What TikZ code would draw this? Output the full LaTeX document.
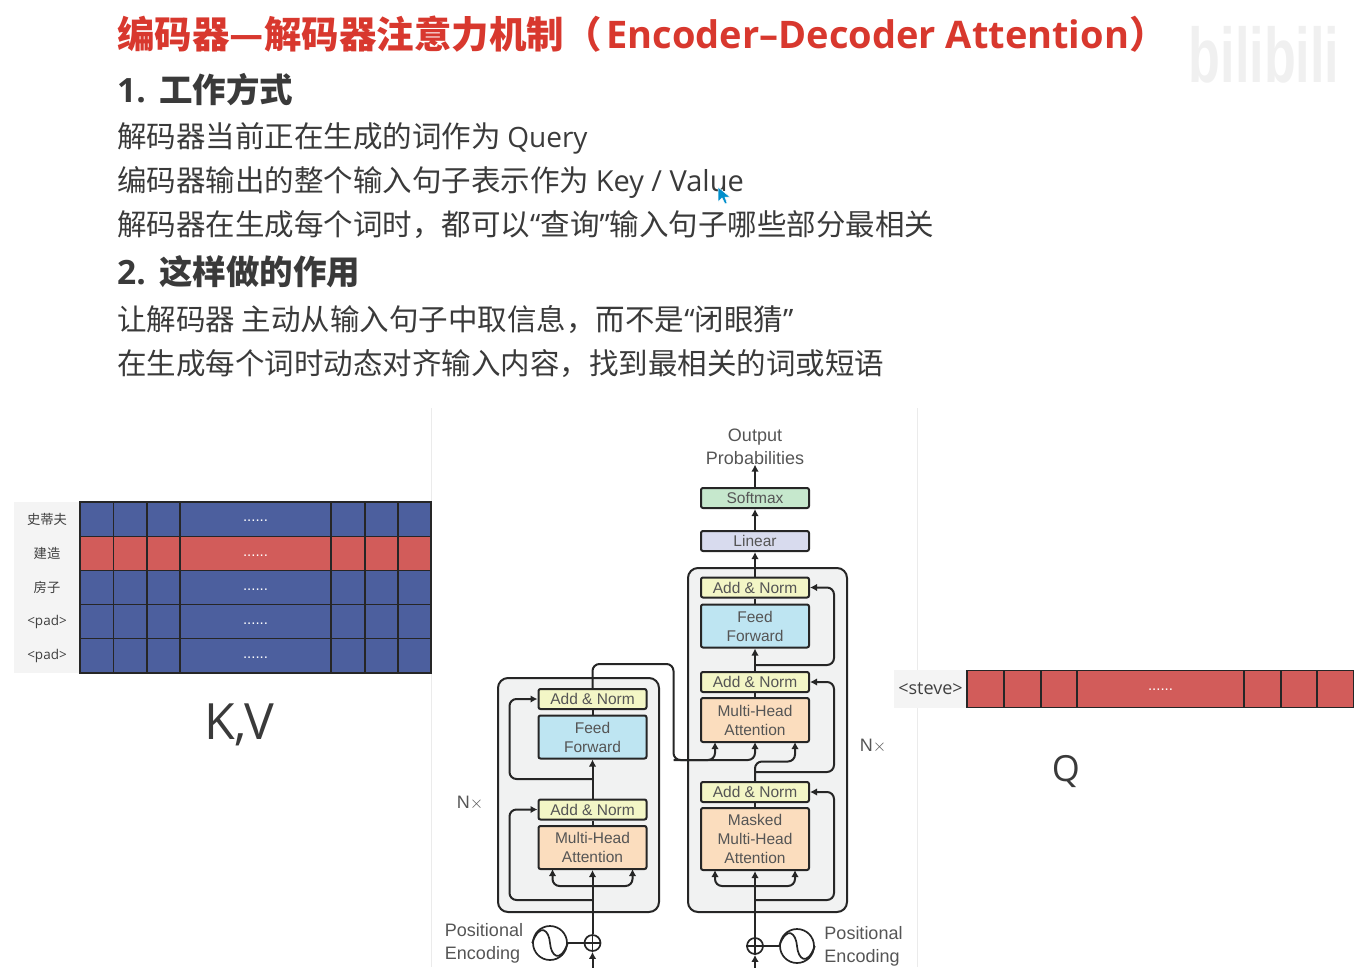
\documentclass[tikz,border=0pt]{standalone}
\usepackage{fontspec}
\setmainfont{Noto Sans CJK SC}
\newfontfamily\lat{Open Sans}
\newfontfamily\helv{Liberation Sans}
\usetikzlibrary{arrows.meta}
\definecolor{titlered}{HTML}{D8382E}
\definecolor{bodygrey}{HTML}{3A3A3A}
\definecolor{labelgrey}{HTML}{555555}
\definecolor{stackgrey}{HTML}{F1F2F2}
\definecolor{normyellow}{HTML}{F3F6C6}
\definecolor{feedblue}{HTML}{BEE5F2}
\definecolor{attnorange}{HTML}{FBDDBE}
\definecolor{linearblue}{HTML}{D8DBEE}
\definecolor{softgreen}{HTML}{C6E8CD}
\definecolor{cellblue}{HTML}{4C5F9E}
\definecolor{cellred}{HTML}{D25C5A}
\definecolor{rowgrey}{HTML}{F4F4F4}
\tikzset{
  bodytext/.style={anchor=base west,inner sep=0pt,text=bodygrey,font=\fontsize{29.5}{32}\selectfont},
  headtext/.style={anchor=base west,inner sep=0pt,text=bodygrey,font=\fontsize{33.5}{36}\selectfont\bfseries},
  stack/.style={draw=black!85,fill=stackgrey,line width=2pt,rounded corners=10pt},
  block/.style={draw=black!85,line width=2pt,rounded corners=2pt,minimum width=108pt,inner sep=0pt,
    align=center,text=labelgrey,font=\helv\fontsize{15.5}{19}\selectfont},
  lbl/.style={inner sep=0pt,align=center,text=labelgrey,font=\helv\fontsize{18}{23}\selectfont},
  flow/.style={line width=2pt,draw=black!85,-{Latex[length=7pt,width=7.5pt]},rounded corners=7pt},
  line/.style={line width=2pt,draw=black!85,rounded corners=7pt},
  rowname/.style={fill=rowgrey,inner sep=0pt,minimum height=34.2pt,minimum width=66pt,text=black!75},
  dots/.style={inner sep=0pt,text=white,font=\helv\fontsize{15}{15}\selectfont},
  wave/.style={circle,draw=black!85,line width=1.7pt,minimum size=34pt,inner sep=0pt},
  adder/.style={circle,draw=black!85,line width=1.7pt,minimum size=16pt,inner sep=0pt},
}
\begin{document}
\begin{tikzpicture}[x=1pt,y=-1pt]
\useasboundingbox (0,0) rectangle (1359,967);

% heading and text lines
\node[anchor=base west,inner sep=0pt,text=titlered,font=\fontsize{37.5}{40}\selectfont\bfseries] (title) at (117,48.5)
  {编码器—解码器注意力机制（\hspace{5pt}{\lat\fontsize{38}{40}\selectfont Encoder–Decoder Attention}）};
\node[headtext] (head1) at (117,102) {{\lat 1.\hspace{2pt} }工作方式};
\node[bodytext] (line1) at (117,147.5) {解码器当前正在生成的词作为 {\lat\fontsize{28}{32}\selectfont Query}};
\node[bodytext] (line2) at (117,191.5) {编码器输出的整个输入句子表示作为 {\lat\fontsize{29}{32}\selectfont Key / Value}};
\node[bodytext] (line3) at (117,235.5) {解码器在生成每个词时，都可以{\lat “}查询{\lat ”}输入句子哪些部分最相关};
\node[headtext] (head2) at (117,284) {{\lat 2.\hspace{2pt} }这样做的作用};
\node[bodytext] (line4) at (117,330.5) {让解码器 主动从输入句子中取信息，而不是{\lat “}闭眼猜{\lat ”}};
\node[bodytext] (line5) at (117,374.5) {在生成每个词时动态对齐输入内容，找到最相关的词或短语};

% watermark and cursor
\node[inner sep=0pt,text=black!6,font=\helv\bfseries\fontsize{62}{62}\selectfont,transform shape,xscale=.84,yscale=1.25] (mark) at (1264,55) {bilibili};
\fill[draw=white,fill=blue!30!cyan!80!black,line width=.5pt] (718,187) -- (718,202) -- (722,198) -- (725,204) -- (727,203) -- (725,197) -- (730,197) -- cycle;

% panel rules
\draw[black!8] (431,408) -- (431,967);
\draw[black!8] (917,408) -- (917,967);

% K,V table
\node[rowname,font=\fontsize{13.3}{15}\selectfont] (kv1) at (47,519) {史蒂夫};
\node[rowname,font=\fontsize{13.3}{15}\selectfont] (kv2) at (47,553.2) {建造};
\node[rowname,font=\fontsize{13.3}{15}\selectfont] (kv3) at (47,587.4) {房子};
\node[rowname,font=\lat\fontsize{13.5}{15}\selectfont] (kv4) at (47,621.6) {\raisebox{-1.4pt}{<pad>}};
\node[rowname,font=\lat\fontsize{13.5}{15}\selectfont] (kv5) at (47,655.8) {\raisebox{-1.4pt}{<pad>}};
\foreach \y/\cname in {502/cellblue,536.2/cellred,570.4/cellblue,604.6/cellblue,638.8/cellblue}{
  \fill[\cname] (80,\y) rectangle (431,\y+34.2);
  \draw[black!85,line width=1.2pt] (80,\y) rectangle (431,\y+34.2);
  \foreach \x in {113.5,147,180,331,365,398}
    \draw[black!85,line width=1.2pt] (\x,\y) -- (\x,\y+34.2);
  \node[dots] at (255.5,\y+19) {......};
}
\node[inner sep=0pt,text=bodygrey,font=\fontsize{50}{54}\selectfont] (kvname) at (239,725) {{\lat K,V}};

% Q row
\node[rowname,minimum width=73pt,minimum height=38pt,font=\lat\fontsize{18}{20}\selectfont] (qname) at (930.5,689) {\raisebox{-1pt}{<steve>}};
\fill[cellred] (967,670.5) rectangle (1353.5,707.5);
\draw[black!85,line width=1.2pt] (967,670.5) rectangle (1353.5,707.5);
\foreach \x in {1004,1041,1077,1244,1281,1317}
  \draw[black!85,line width=1.2pt] (\x,670.5) -- (\x,707.5);
\node[dots] at (1160.5,690) {......};
\node[inner sep=0pt,text=bodygrey,font=\fontsize{36}{40}\selectfont] (qlabel) at (1066,771) {{\lat Q}};

% stacks
\node[stack,minimum width=161pt,minimum height=234pt] (encstack) at (578.5,795) {};
\node[stack,minimum width=159pt,minimum height=344pt] (decstack) at (767.5,740) {};

% encoder blocks
\node[block,fill=attnorange,minimum height=43pt] (encmha) at (592.5,847.5) {Multi-Head\\Attention};
\node[block,fill=normyellow,minimum height=20pt] (encnorm1) at (592.5,809.5) {Add \& Norm};
\node[block,fill=feedblue,minimum height=43pt] (encff) at (592.5,737) {Feed\\Forward};
\node[block,fill=normyellow,minimum height=20pt] (encnorm2) at (592.5,699) {Add \& Norm};

% decoder blocks
\node[block,fill=attnorange,minimum height=62pt] (decmask) at (755,839) {Masked\\Multi-Head\\Attention};
\node[block,fill=normyellow,minimum height=20pt] (decnorm1) at (755,792) {Add \& Norm};
\node[block,fill=attnorange,minimum height=44pt] (decmha) at (755,720) {Multi-Head\\Attention};
\node[block,fill=normyellow,minimum height=20pt] (decnorm2) at (755,682) {Add \& Norm};
\node[block,fill=feedblue,minimum height=43pt] (decff) at (755,626) {Feed\\Forward};
\node[block,fill=normyellow,minimum height=20pt] (decnorm3) at (755,587.5) {Add \& Norm};
\node[block,fill=linearblue,minimum height=20pt] (linear) at (755,541) {Linear};
\node[block,fill=softgreen,minimum height=20pt] (softmax) at (755,498) {Softmax};
\node[lbl] (output) at (755,446.5) {Output\\Probabilities};

% positional encoding
\node[adder] (encadd) at (592.5,943) {};
\node[wave] (encwave) at (550,943) {};
\node[adder] (decadd) at (755,946) {};
\node[wave] (decwave) at (797,946) {};
\draw[line width=1.7pt,black!85] (encadd.north)--(encadd.south) (encadd.west)--(encadd.east);
\draw[line width=1.7pt,black!85] (decadd.north)--(decadd.south) (decadd.west)--(decadd.east);
\draw[line width=1.7pt,black!85] (encwave.west) .. controls (540,922) and (549,930) .. (550,943) .. controls (551,956) and (560,964) .. (encwave.east);
\draw[line width=1.7pt,black!85] (decwave.west) .. controls (787,925) and (796,933) .. (797,946) .. controls (798,959) and (807,967) .. (decwave.east);
\draw[line] (encwave)--(encadd);
\draw[line] (decwave)--(decadd);
\node[lbl,align=left] (encpos) at (484,943.5) {Positional\\Encoding};
\node[lbl,align=left] (decpos) at (863.5,946.5) {Positional\\Encoding};
\node[lbl] (encnx) at (470,803) {N$\times$};
\node[lbl] (decnx) at (873,746) {N$\times$};

% free ends
\coordinate (encin) at (592.5,972);
\coordinate (decin) at (755,972);
\coordinate (enck) at (552.5,869);
\coordinate (encq) at (632.5,869);
\coordinate (encfork) at (592.5,886);
\coordinate (encskip1) at (592.5,900);
\coordinate (encskip2) at (592.5,779);
\coordinate (encleft) at (509.5,850);
\coordinate (deck) at (715,870);
\coordinate (decq) at (795,870);
\coordinate (decfork) at (755,886);
\coordinate (decskip1) at (755,900);
\coordinate (decskip2) at (755,772);
\coordinate (decskip3) at (755,665);
\coordinate (decright) at (834,850);
\coordinate (xa) at (673.5,664);
\coordinate (xb) at (673.5,760);
\coordinate (xk) at (715,742);
\coordinate (xv) at (755,742);
\coordinate (xq) at (795,742);
\coordinate (xm) at (775,761.5);

% encoder connectors
\draw[flow] (encin)--(encadd.south);
\draw[flow] (encadd.north)--(encmha.south);
\draw[flow] (encfork) -| (enck);
\draw[flow] (encfork) -| (encq);
\draw[flow] (encskip1) -- (encskip1 -| encleft) -- (encleft |- encnorm1.west) -- (encnorm1.west);
\draw[line] (encmha)--(encnorm1);
\draw[flow] (encnorm1.north)--(encff.south);
\draw[flow] (encskip2) -- (encskip2 -| encleft) -- (encleft |- encnorm2.west) -- (encnorm2.west);
\draw[line] (encff)--(encnorm2);
\draw[flow] (encnorm2.north) |- (xa) -- (xb) -| (xk);
\draw[flow] (xb) -| (xv);

% decoder connectors
\draw[flow] (decin)--(decadd.south);
\draw[flow] (decadd.north)--(decmask.south);
\draw[flow] (decfork) -| (deck);
\draw[flow] (decfork) -| (decq);
\draw[flow] (decskip1) -- (decskip1 -| decright) -- (decright |- decnorm1.east) -- (decnorm1.east);
\draw[line] (decmask)--(decnorm1);
\draw[flow] (decnorm1.north) |- (xm) -| (xq);
\draw[flow] (decskip2) -- (decskip2 -| decright) -- (decright |- decnorm2.east) -- (decnorm2.east);
\draw[line] (decmha)--(decnorm2);
\draw[flow] (decnorm2.north)--(decff.south);
\draw[flow] (decskip3) -- (decskip3 -| decright) -- (decright |- decnorm3.east) -- (decnorm3.east);
\draw[line] (decff)--(decnorm3);
\draw[flow] (decnorm3.north)--(linear.south);
\draw[flow] (linear.north)--(softmax.south);
\draw[flow] (softmax.north)--(output.south);
\end{tikzpicture}
\end{document}
